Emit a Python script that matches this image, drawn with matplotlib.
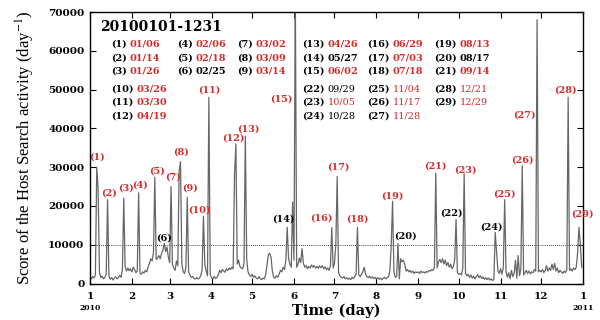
import matplotlib
matplotlib.use("Agg")
import matplotlib.pyplot as plt
import numpy as np

plt.rcParams.update({
    "font.family": "DejaVu Serif",
    "mathtext.fontset": "stix",
    "axes.linewidth": 1.0,
})

# daily score (thousands), one list per month of 2010
jan = [2.0, 1.2, 1.8, 1.4, 2.2, 30.0, 24.5, 2.8, 1.5, 1.9, 1.2, 1.6, 2.4, 21.6, 2.0, 1.1,
       1.5, 0.9, 1.4, 1.7, 1.2, 1.5, 2.1, 1.6, 3.6, 22.0, 4.4, 3.2, 4.0, 3.3, 3.8]
feb = [3.0, 4.2, 3.6, 2.8, 3.2, 23.4, 2.6, 2.4, 3.0, 2.7, 3.4, 3.0, 4.3, 5.2, 6.4, 5.8,
       8.0, 27.4, 6.2, 6.6, 7.2, 6.4, 7.8, 8.6, 10.3, 8.2, 9.4, 6.8]
mar = [5.4, 25.0, 5.0, 4.0, 3.4, 5.8, 4.6, 29.0, 31.4, 5.2, 3.0, 2.6, 4.2, 22.2, 3.0, 2.2,
       1.6, 1.8, 1.3, 1.2, 1.5, 1.2, 1.4, 2.0, 3.5, 17.3, 5.0, 3.2, 2.0, 48.0, 2.4]
apr = [1.5, 1.2, 1.8, 1.3, 1.6, 2.2, 3.4, 2.8, 3.6, 3.2, 2.9, 3.8, 3.4, 4.0, 3.6, 4.2,
       3.8, 28.0, 36.0, 5.0, 6.0, 4.4, 4.0, 3.8, 5.2, 38.0, 6.2, 3.0, 2.2, 1.8]
may = [2.4, 1.6, 2.0, 1.4, 1.2, 1.8, 1.3, 1.0, 1.4, 1.2, 2.2, 4.6, 7.4, 7.8, 6.8, 3.2,
       1.6, 1.4, 2.0, 1.6, 2.4, 3.4, 3.0, 4.2, 3.6, 6.0, 14.5, 6.4, 5.0, 4.2, 21.0]
jun = [6.0, 75.0, 4.2, 5.0, 6.6, 5.4, 9.0, 5.2, 4.2, 4.6, 3.8, 4.4, 4.0, 4.8, 4.2, 4.6,
       4.0, 4.4, 3.9, 4.5, 4.1, 4.6, 3.8, 4.3, 3.6, 4.0, 3.4, 4.6, 14.4, 4.0]
jul = [5.2, 10.2, 27.6, 3.0, 2.0, 1.6, 1.4, 1.8, 1.2, 1.5, 1.1, 1.4, 1.0, 1.6, 1.3, 1.8,
       2.4, 14.5, 2.2, 1.8, 2.4, 3.0, 4.2, 2.4, 1.8, 1.5, 1.9, 1.4, 1.7, 1.3, 1.6]
aug = [1.2, 1.5, 1.1, 1.4, 1.0, 1.3, 1.6, 1.2, 1.5, 1.8, 3.2, 9.8, 21.2, 3.0, 1.6, 1.8,
       10.3, 1.2, 6.4, 5.6, 6.0, 5.0, 3.2, 3.6, 3.0, 3.4, 2.8, 3.2, 2.6, 3.0, 2.8]
sep = [3.0, 2.6, 3.2, 2.8, 3.0, 2.7, 3.1, 2.9, 3.4, 3.2, 3.6, 3.4, 4.2, 28.4, 4.0, 5.6,
       6.2, 5.4, 6.4, 5.0, 6.0, 4.6, 5.4, 4.2, 5.0, 3.8, 4.4, 6.2, 16.5, 2.8]
oct_ = [2.4, 2.6, 2.2, 4.0, 28.3, 2.6, 2.0, 2.4, 1.6, 2.2, 1.4, 1.9, 1.2, 1.8, 2.3, 1.5,
        2.0, 1.3, 1.7, 1.1, 1.5, 1.0, 1.4, 0.9, 1.2, 0.8, 1.0, 13.2, 8.0, 3.2, 2.6]
nov = [3.8, 2.4, 4.2, 21.6, 3.0, 1.6, 2.8, 1.2, 3.4, 1.8, 2.6, 6.0, 1.4, 7.2, 2.0, 3.8,
       30.4, 2.2, 2.8, 3.4, 2.6, 3.2, 2.5, 3.0, 2.8, 3.6, 3.2, 68.0, 3.0, 3.4]
dec = [3.0, 3.6, 2.8, 3.4, 4.6, 3.2, 4.0, 3.4, 5.0, 3.6, 5.2, 3.2, 4.0, 2.8, 3.4, 3.0,
       2.6, 3.2, 2.8, 3.6, 48.0, 3.4, 3.8, 3.2, 4.0, 3.6, 4.2, 8.0, 14.5, 10.2, 4.2]

months = [jan, feb, mar, apr, may, jun, jul, aug, sep, oct_, nov, dec]
score = np.concatenate([np.array(m) for m in months]) * 1000
days = np.arange(len(score))

month_starts = [0, 31, 59, 90, 120, 151, 181, 212, 243, 273, 304, 334, 365]
month_labels = ["1", "2", "3", "4", "5", "6", "7", "8", "9", "10", "11", "12", "1"]

# detected events
event_ids = list(range(1, 30))
event_dates = ["01/06", "01/14", "01/26", "02/06", "02/18", "02/25", "03/02", "03/09",
               "03/14", "03/26", "03/30", "04/19", "04/26", "05/27", "06/02", "06/29",
               "07/03", "07/18", "08/13", "08/17", "09/14", "09/29", "10/05", "10/28",
               "11/04", "11/17", "11/28", "12/21", "12/29"]
event_days = [5, 13, 25, 36, 48, 55, 60, 67, 72, 84, 88, 108, 115, 146, 152, 179,
              183, 198, 224, 228, 256, 271, 277, 300, 307, 320, 331, 354, 362]
black_events = [6, 14, 20, 22, 24]

# label offsets from the peak, in pixels
label_offsets = {1: (0, 10), 2: (1, 7), 3: (2, 10), 4: (1, 8), 5: (2, 6), 6: (0, 6),
                 7: (2, 10), 8: (1, 10), 9: (3, 9), 10: (-4, 6), 11: (0, 7), 12: (-3, 6),
                 13: (3, 7), 14: (-4, 8), 15: (-14, -106), 16: (-10, 10), 17: (1, 9),
                 18: (0, 8), 19: (0, 5), 20: (7, 8), 21: (0, 7), 22: (-5, 6), 23: (1, 4),
                 24: (-4, 5), 25: (0, 6), 26: (0, 6), 27: (-13, -95), 28: (-3, 7),
                 29: (3, 13)}

red = "#d42a2a"

fig = plt.figure(figsize=(6, 3.2), dpi=100)
ax = fig.add_axes([0.15, 0.114, 0.8217, 0.8485])

ax.plot(days, score, color="#666666", linewidth=0.9, zorder=2)
ax.axhline(10000, color="black", linestyle=(0, (1, 1.5)), linewidth=0.6, zorder=1)

ax.set_xlim(0, 365)
ax.set_ylim(0, 70000)
ax.set_xticks(month_starts)
ax.set_xticklabels(month_labels, fontweight="bold", fontsize=7.5)
ax.set_yticks(np.arange(0, 70001, 10000))
ax.set_yticklabels([str(v) for v in range(0, 70001, 10000)], fontweight="bold", fontsize=7.5)
ax.tick_params(axis="both", direction="in", length=4, width=0.8, top=True, right=True)
ax.tick_params(axis="x", pad=6)
ax.tick_params(axis="y", pad=4)

# year marks under first and last tick
ax.text(0, -0.092, "2010", transform=ax.get_xaxis_transform(), ha="center", va="center",
        fontsize=5.5, fontweight="bold")
ax.text(365, -0.092, "2011", transform=ax.get_xaxis_transform(), ha="center", va="center",
        fontsize=5.5, fontweight="bold")

ax.set_xlabel("Time (day)", fontsize=10.5, fontweight="bold")
ax.xaxis.set_label_coords(0.5, -0.075)
ax.set_ylabel("Score of the Host Search activity (day$^{-1}$)", fontsize=12,
              family="Liberation Serif")
ax.yaxis.set_label_coords(-0.108, 0.5)

# peak labels
for i, d in zip(event_ids, event_days):
    col = "black" if i in black_events else red
    dx, dy = label_offsets[i]
    ax.annotate(f"({i})", xy=(d, score[d]), xytext=(dx, dy), textcoords="offset pixels",
                ha="center", va="center", fontsize=7, fontweight="bold", color=col,
                annotation_clip=False)

# title and date table
ax.text(0.0203, 0.945, "20100101-1231", transform=ax.transAxes, ha="left", va="center",
        fontsize=10, fontweight="bold")

col_x = [0.0426, 0.1765, 0.298, 0.430, 0.562, 0.698]
row_y = [0.882, 0.831, 0.781, 0.716, 0.667, 0.617]

for i, date in zip(event_ids, event_dates):
    if i <= 9:
        c, r = (i - 1) // 3, (i - 1) % 3
    elif i <= 12:
        c, r = 0, 3 + (i - 10)
    elif i <= 21:
        c, r = 3 + (i - 13) // 3, (i - 13) % 3
    else:
        c, r = 3 + (i - 22) // 3, 3 + (i - 22) % 3
    num = ax.text(col_x[c], row_y[r], f"({i})", transform=ax.transAxes, ha="left",
                  va="center", fontsize=7, fontweight="bold", color="black")
    ax.annotate(date, xy=(1, 0), xycoords=num, xytext=(3, 0), textcoords="offset pixels",
                ha="left", va="bottom", fontsize=7,
                fontweight="bold" if i <= 21 else "normal",
                color="black" if i in black_events else red)

fig.savefig("out.png", dpi=100)
